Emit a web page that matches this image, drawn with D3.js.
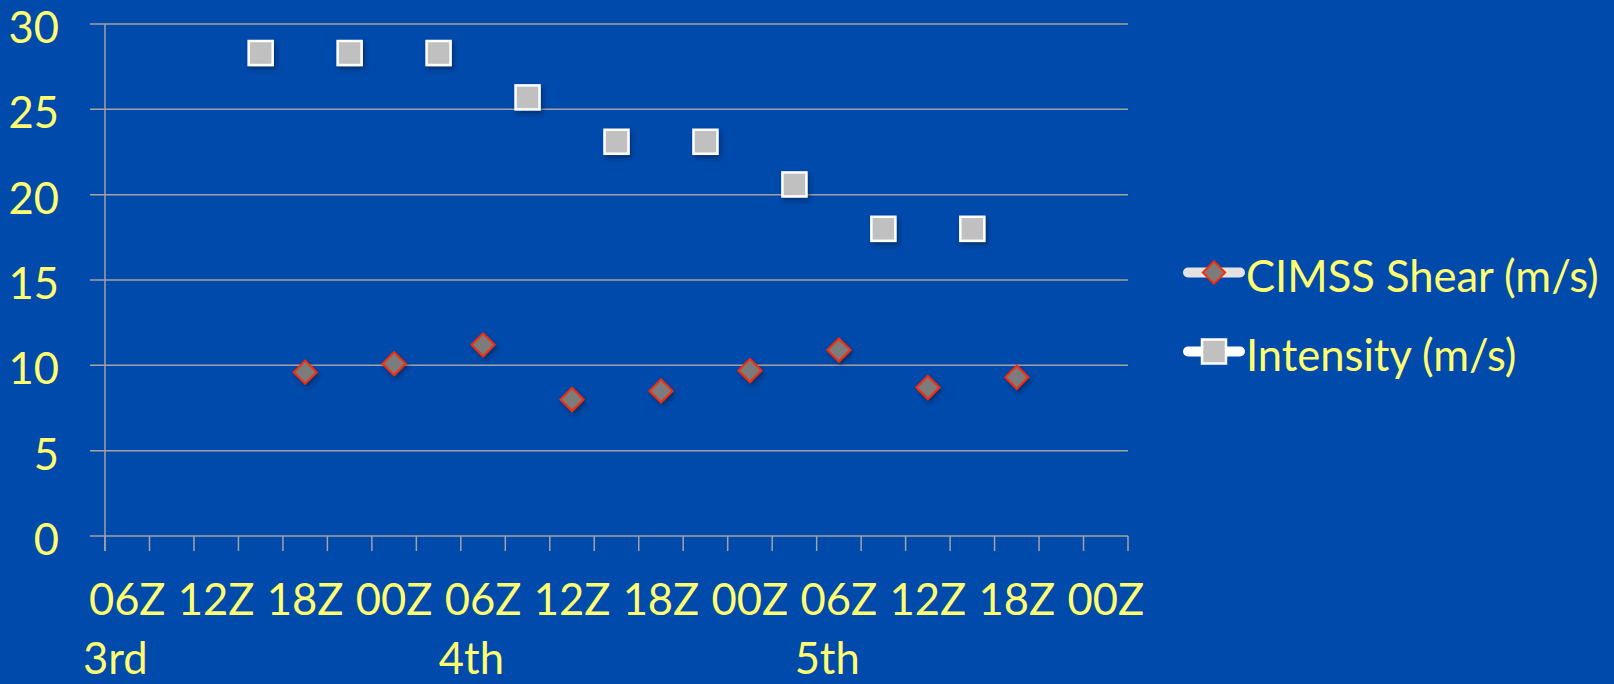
<!DOCTYPE html>
<html>
<head>
<meta charset="utf-8">
<script src="https://cdn.jsdelivr.net/npm/d3@7"></script>
<style>
  html, body { margin: 0; padding: 0; background: #004aab; }
  svg { display: block; }
  text { font-family: Lato, "Open Sans", sans-serif; fill: #ffff70; }
</style>
</head>
<body>
<svg id="chart" width="1614" height="684"></svg>
<script>
// Three-hourly time slots, 06Z on the 3rd through 00Z on the 6th
const categories = [
  "06Z 3rd", "09Z 3rd", "12Z 3rd", "15Z 3rd", "18Z 3rd", "21Z 3rd",
  "00Z 4th", "03Z 4th", "06Z 4th", "09Z 4th", "12Z 4th", "15Z 4th", "18Z 4th", "21Z 4th",
  "00Z 5th", "03Z 5th", "06Z 5th", "09Z 5th", "12Z 5th", "15Z 5th", "18Z 5th", "21Z 5th",
  "00Z 6th"
];
// Hour label shown under every other slot
const hourLabels = ["06Z", "12Z", "18Z", "00Z", "06Z", "12Z", "18Z", "00Z", "06Z", "12Z", "18Z", "00Z"];
const hourLabelSlots = ["06Z 3rd", "12Z 3rd", "18Z 3rd", "00Z 4th", "06Z 4th", "12Z 4th",
  "18Z 4th", "00Z 5th", "06Z 5th", "12Z 5th", "18Z 5th", "00Z 6th"];
// Day labels on the second row
const dayLabels = ["3rd", "4th", "5th"];
const dayLabelSlots = ["06Z 3rd", "06Z 4th", "06Z 5th"];

// CIMSS deep-layer shear (m/s)
const shearTimes = ["18Z 3rd", "00Z 4th", "06Z 4th", "12Z 4th", "18Z 4th", "00Z 5th", "06Z 5th", "12Z 5th", "18Z 5th"];
const shearValues = [9.6, 10.1, 11.2, 8.0, 8.5, 9.7, 10.9, 8.7, 9.3];

// Best-track intensity (m/s)
const intensityTimes = ["15Z 3rd", "21Z 3rd", "03Z 4th", "09Z 4th", "15Z 4th", "21Z 4th", "03Z 5th", "09Z 5th", "15Z 5th"];
const intensityValues = [28.3, 28.3, 28.3, 25.7, 23.1, 23.1, 20.6, 18.0, 18.0];

const yTicks = [0, 5, 10, 15, 20, 25, 30];
const seriesNames = ["CIMSS Shear (m/s)", "Intensity (m/s)"];

const svg = d3.select("#chart");
const plotLeft = 105, plotRight = 1128, plotTop = 24, plotBottom = 536;
const fontSize = 43.5;

const x = d3.scaleBand().domain(categories).range([plotLeft, plotRight]).padding(0);
const y = d3.scaleLinear().domain([0, 30]).range([plotBottom, plotTop]);
const cx = d => x(d) + x.bandwidth() / 2;

// soft drop shadow for markers
const defs = svg.append("defs");
const f = defs.append("filter").attr("id", "shadow")
  .attr("x", "-50%").attr("y", "-50%").attr("width", "200%").attr("height", "200%");
f.append("feDropShadow").attr("dx", 2).attr("dy", 3).attr("stdDeviation", 2)
  .attr("flood-color", "#001a40").attr("flood-opacity", 0.55);

const gridColor = "#a3a3a3";

// horizontal gridlines, extending left as the y tick marks
svg.append("g").selectAll("line").data(yTicks).join("line")
  .attr("x1", plotLeft - 15).attr("x2", plotRight)
  .attr("y1", d => y(d)).attr("y2", d => y(d))
  .attr("stroke", gridColor).attr("stroke-width", 1.5);

// vertical axis line
svg.append("line").attr("x1", plotLeft).attr("x2", plotLeft).attr("y1", plotTop).attr("y2", plotBottom + 15)
  .attr("stroke", gridColor).attr("stroke-width", 1.5);

// x tick marks at slot boundaries
const boundaries = categories.map(c => x(c)).concat([plotRight]);
svg.append("g").selectAll("line").data(boundaries).join("line")
  .attr("x1", d => d).attr("x2", d => d)
  .attr("y1", plotBottom).attr("y2", plotBottom + 15)
  .attr("stroke", gridColor).attr("stroke-width", 1.5);

// y labels
svg.append("g").selectAll("text").data(yTicks).join("text")
  .attr("x", 59).attr("y", d => y(d) + 19)
  .attr("text-anchor", "end").attr("font-size", fontSize)
  .text(d => d);

// x hour labels
svg.append("g").selectAll("text").data(hourLabels).join("text")
  .attr("x", (d, i) => cx(hourLabelSlots[i])).attr("y", 615)
  .attr("text-anchor", "middle").attr("font-size", fontSize)
  .text(d => d);

// day labels
svg.append("g").selectAll("text").data(dayLabels).join("text")
  .attr("x", (d, i) => x(dayLabelSlots[i]) - 22).attr("y", 674)
  .attr("text-anchor", "start").attr("font-size", fontSize)
  .text(d => d);

// marker shapes
const diamond = d3.symbol().type(d3.symbolSquare).size(265);
const drawDiamond = sel => sel.attr("d", diamond())
  .attr("fill", "#7c7c7c").attr("stroke", "#ff2a00").attr("stroke-width", 2);
const sq = 24;
const drawSquare = sel => sel.attr("x", -sq / 2).attr("y", -sq / 2)
  .attr("width", sq).attr("height", sq)
  .attr("fill", "#c0c0c0").attr("stroke", "#ffffff").attr("stroke-width", 2.5);

// intensity series
svg.append("g").attr("filter", "url(#shadow)").selectAll("rect").data(intensityValues).join("rect")
  .call(drawSquare)
  .attr("transform", (d, i) => `translate(${cx(intensityTimes[i])},${y(d)})`);

// shear series
svg.append("g").attr("filter", "url(#shadow)").selectAll("path").data(shearValues).join("path")
  .call(drawDiamond)
  .attr("transform", (d, i) => `translate(${cx(shearTimes[i])},${y(d)}) rotate(45)`);

// legend
const legend = svg.append("g");
const legendRows = [
  { name: seriesNames[0], ly: 272.5, line: "#e2e2e2", marker: "diamond" },
  { name: seriesNames[1], ly: 351.5, line: "#ffffff", marker: "square" }
];
legendRows.forEach(r => {
  const g = legend.append("g");
  g.append("line").attr("x1", 1188).attr("x2", 1240).attr("y1", r.ly).attr("y2", r.ly)
    .attr("stroke", r.line).attr("stroke-width", 10).attr("stroke-linecap", "round");
  if (r.marker === "diamond") {
    g.append("path").call(drawDiamond)
      .attr("d", d3.symbol().type(d3.symbolSquare).size(250)())
      .attr("transform", `translate(1214,${r.ly}) rotate(45)`);
  } else {
    g.append("rect").call(drawSquare)
      .attr("transform", `translate(1214,${r.ly})`);
  }
  g.append("text").attr("x", 1246).attr("y", r.ly + 19).attr("font-size", fontSize).text(r.name);
});
</script>
</body>
</html>
